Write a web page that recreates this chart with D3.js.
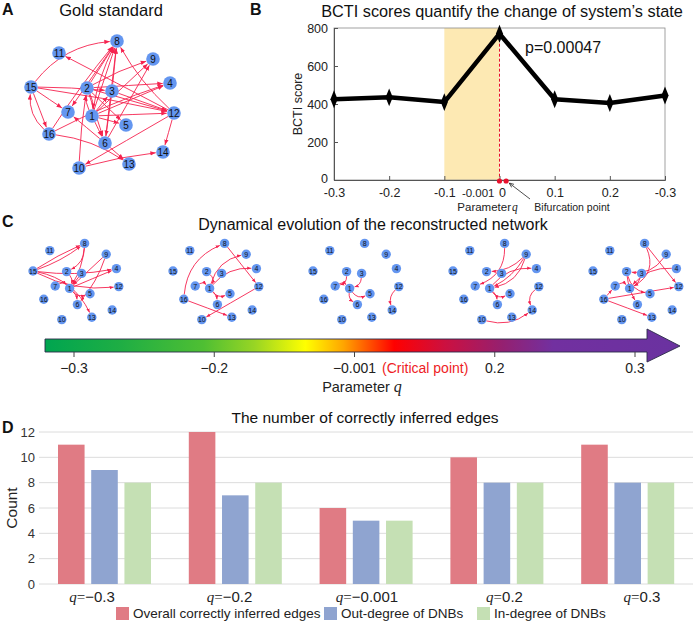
<!DOCTYPE html>
<html><head><meta charset="utf-8">
<script src="https://cdn.jsdelivr.net/npm/d3@7"></script>
<style>body{margin:0;background:#fff}svg{display:block;font-family:Arial,"Liberation Sans",sans-serif}</style>
</head><body><svg id="c" width="694" height="622"></svg>
<script>
// ---------- DATA ----------
const nodeIds = [1,2,3,4,5,6,7,8,9,10,11,12,13,14,15,16];
const nodeX = [92,87,112,170,126,105,68,117,153,79,59,174,129,163,31,49];
const nodeY = [116,88,91,83,125,143,112,41,59,168,53,113,164,152,87,134];
// [source, target, bend]
const goldEdges = [
 [15,8,0.22],[16,15,0.25],[15,16,0],[15,7,0],[15,3,0.02],[15,12,0.02],
 [12,11,0],[16,8,0.03],[16,4,0.04],[16,13,0.12],
 [2,8,0],[1,8,0],[1,8,0.08],[3,8,0],[6,8,0],[12,8,0.08],[8,7,0],
 [2,9,0.05],[1,9,0],[6,9,0],[2,4,0],[1,4,0],
 [2,12,0],[3,12,0],[1,12,0],[1,2,0.15],[2,1,0.15],[1,3,0],
 [1,5,0],[2,5,0],[1,6,0],[2,6,0],[6,7,0],[3,6,0],
 [10,2,0.03],[12,14,0],[12,10,0],[10,14,0.04],[6,13,0]
];
const stageNames = ["-0.3","-0.2","-0.001","0.2","0.3"];
const stageEdges = [
 [[15,8,0.04],[15,8,-0.08],[15,4,-0.08],[15,12,-0.15],[15,13,0.25],[8,1,0.12],[8,2,0.3],
  [9,1,0],[9,6,0.1],[1,4,0],[1,5,-0.3],[7,1,0.4],[2,1,0.3],[1,6,0.2],[3,1,0]],
 [[16,8,0.3],[16,13,0],[8,12,0],[12,10,0],[1,9,0.3],[1,4,0.25],[2,1,0.4],[7,1,0.4],[1,5,-0.35],[1,6,0.2]],
 [[2,7,0.4],[7,1,0.4],[3,1,0.35],[1,5,-0.4],[1,6,-0.3],[12,14,-0.3]],
 [[8,7,0.35],[9,1,0.3],[9,1,0.15],[9,2,0.2],[1,4,0.25],[1,5,-0.4],[1,6,0.2],[12,14,-0.35],[10,14,-0.25]],
 [[8,12,0],[8,1,0.45],[9,2,0.3],[4,1,-0.25],[16,12,0],[16,13,0],[16,7,0],[2,5,-0.3],[2,6,-0.1],[7,1,0.4],[3,1,0.2]]
];
const bctiQ = [-0.3,-0.2,-0.1,0,0.1,0.2,0.3];
const bctiScore = [425,435,410,770,425,405,445];
const bctiTickVals = [-0.3,-0.2,-0.1,0,0.1,0.2,0.3];
const bctiTickLabels = ["-0.3","-0.2","-0.1","0","0.1","0.2","-0.3"];
const bctiYTicks = [0,200,400,600,800];
const cbarLabels = ["\u22120.3","\u22120.2","\u22120.001","0.2","0.3"];
const barCats = ["\u22120.3","\u22120.2","\u22120.001","0.2","0.3"];
const seriesNames = ["Overall correctly inferred edges","Out-degree of DNBs","In-degree of DNBs"];
const overallEdges = [11,12,6,10,11];
const outDegree = [9,7,5,8,8];
const inDegree = [8,8,5,8,8];
const countTicks = [0,2,4,6,8,10,12];

// ---------- STYLE ----------
const edgeColor = "#f5234f", nodeColor = "#6496f0";
const seriesColors = ["#e07b84","#8fa4d0","#c5e0b4"];
const svg = d3.select("#c");
const defs = svg.append("defs");
function marker(id, w){
  defs.append("marker").attr("id",id).attr("viewBox","0 -5 10 10").attr("refX",10).attr("refY",0)
    .attr("markerWidth",w).attr("markerHeight",w).attr("orient","auto")
    .append("path").attr("d","M0,-4L10,0L0,4Z").attr("fill",edgeColor);
}
marker("arrA",6); marker("arrC",4.5);

function drawNet(g, xs, ys, edges, r, fs, mk){
  const pos = id => { const i = nodeIds.indexOf(id); return [xs(nodeX[i]), ys(nodeY[i])]; };
  g.selectAll("path.e").data(edges).join("path").attr("class","e")
    .attr("fill","none").attr("stroke",edgeColor).attr("stroke-width",0.9)
    .attr("marker-end",`url(#${mk})`)
    .attr("d", e => {
      const [sx,sy] = pos(e[0]), [tx,ty] = pos(e[1]);
      const dx = tx-sx, dy = ty-sy;
      const cx = (sx+tx)/2 + dy*e[2], cy = (sy+ty)/2 - dx*e[2];
      const a1 = Math.atan2(cy-sy, cx-sx), a2 = Math.atan2(cy-ty, cx-tx);
      const x1 = sx + r*Math.cos(a1), y1 = sy + r*Math.sin(a1);
      const x2 = tx + (r+0.5)*Math.cos(a2), y2 = ty + (r+0.5)*Math.sin(a2);
      return `M${x1},${y1}Q${cx},${cy} ${x2},${y2}`;
    });
  const n = g.selectAll("g.n").data(nodeIds).join("g").attr("class","n")
    .attr("transform", id => `translate(${pos(id)})`);
  n.append("circle").attr("r",r).attr("fill",nodeColor);
  n.append("text").text(d=>d).attr("text-anchor","middle").attr("dy","0.36em")
    .attr("font-size",fs).attr("fill","#111");
}

function label(x,y,t){ svg.append("text").attr("x",x).attr("y",y).text(t).attr("font-weight","bold").attr("font-size",16).attr("fill","#111"); }

// ---------- PANEL A ----------
label(2,15,"A");
svg.append("text").attr("x",111).attr("y",16).attr("text-anchor","middle").attr("font-size",16.5).attr("fill","#111").text("Gold standard");
{
  const xs = d3.scaleLinear().domain([0,1]).range([0,1]);
  const ys = d3.scaleLinear().domain([0,1]).range([0,1]);
  drawNet(svg.append("g"), xs, ys, goldEdges, 6.8, 10, "arrA");
}

// ---------- PANEL B ----------
label(250,15,"B");
svg.append("text").attr("x",502).attr("y",17).attr("text-anchor","middle").attr("font-size",16.3).attr("fill","#111")
  .text("BCTI scores quantify the change of system\u2019s state");
{
  const xB = d3.scaleLinear().domain([-0.3,0.3]).range([334,665]);
  const yB = d3.scaleLinear().domain([0,800]).range([180,28]);
  const g = svg.append("g");
  g.append("rect").attr("x",xB(-0.1)).attr("y",yB(800)).attr("width",xB(0)-xB(-0.1)).attr("height",yB(0)-yB(800)).attr("fill","#fde9b3");
  g.append("line").attr("x1",xB(0)).attr("x2",xB(0)).attr("y1",yB(bctiScore[3])).attr("y2",yB(0))
    .attr("stroke","#e8112d").attr("stroke-width",1).attr("stroke-dasharray","3,2");
  // box
  g.append("rect").attr("x",xB(-0.3)).attr("y",yB(800)).attr("width",xB(0.3)-xB(-0.3)).attr("height",yB(0)-yB(800))
    .attr("fill","none").attr("stroke","#8a8a8a").attr("stroke-width",0.8);
  const ax = g.append("g").attr("transform",`translate(0,${yB(0)})`)
    .call(d3.axisBottom(xB).tickValues(bctiTickVals).tickFormat((d,i)=>bctiTickLabels[i]).tickSize(-4).tickPadding(8));
  const ay = g.append("g").attr("transform",`translate(${xB(-0.3)},0)`)
    .call(d3.axisLeft(yB).tickValues(bctiYTicks).tickSize(-4).tickPadding(6));
  [ax,ay].forEach(a=>{ a.select(".domain").attr("stroke","#555"); a.selectAll(".tick line").attr("stroke","#555");
    a.selectAll("text").attr("font-size",12.5).attr("fill","#222").attr("font-family","Arial,'Liberation Sans',sans-serif"); });
  ax.selectAll(".tick text").attr("dx",(d)=> d===0 ? "0.2em" : 0);
  ay.selectAll(".tick text").attr("dy",(d)=> d===0 ? "0.2em" : "0.32em");
  g.append("text").attr("x",xB(0)-5).attr("y",yB(0)+17).attr("text-anchor","end").attr("font-size",11.5).attr("fill","#222").text("-0.001");
  const line = d3.line().x((d,i)=>xB(bctiQ[i])).y(d=>yB(d));
  g.append("path").datum(bctiScore).attr("d",line).attr("fill","none").attr("stroke","#000").attr("stroke-width",4.5).attr("stroke-linejoin","round");
  g.selectAll("path.dm").data(bctiScore).join("path").attr("class","dm")
    .attr("transform",(d,i)=>`translate(${xB(bctiQ[i])},${yB(d)}) scale(0.8,1.15)`)
    .attr("d",d3.symbol(d3.symbolDiamond,70)).attr("fill","#000");
  g.selectAll("circle.rd").data([0,0.012]).join("circle").attr("class","rd")
    .attr("cx",d=>xB(d)).attr("cy",yB(0)+1).attr("r",2.6).attr("fill","#e8112d");
  defs.append("marker").attr("id","blk").attr("viewBox","0 -5 10 10").attr("refX",10).attr("markerWidth",6).attr("markerHeight",6).attr("orient","auto")
    .append("path").attr("d","M0,-4L10,0L0,4").attr("fill","none").attr("stroke","#222").attr("stroke-width",1.5);
  g.append("line").attr("x1",530).attr("y1",199).attr("x2",xB(0.012)+3).attr("y2",yB(0)+3)
    .attr("stroke","#222").attr("stroke-width",0.8).attr("marker-end","url(#blk)");
  g.append("text").attr("x",572).attr("y",210.5).attr("text-anchor","middle").attr("font-size",10.5).attr("fill","#222").text("Bifurcation point");
  g.append("text").attr("x",511).attr("y",211).attr("text-anchor","end").attr("font-size",11.5).attr("fill","#222").text("Parameter");
  g.append("text").attr("x",512).attr("y",211).attr("font-size",11.5).attr("fill","#222")
    .attr("font-style","italic").attr("font-family","'Liberation Serif',serif").text("q");
  g.append("text").attr("x",525).attr("y",53).attr("font-size",16).attr("fill","#111").text("p=0.00047");
  g.append("text").attr("transform",`translate(302,${(yB(0)+yB(800))/2}) rotate(-90)`).attr("text-anchor","middle")
    .attr("font-size",12.5).attr("fill","#222").text("BCTI score");
}

// ---------- PANEL C ----------
label(2,227,"C");
svg.append("text").attr("x",373).attr("y",229.5).attr("text-anchor","middle").attr("font-size",16).attr("fill","#111")
  .text("Dynamical evolution of the reconstructed network");
stageNames.forEach((s,k)=>{
  const xs = d3.scaleLinear().domain([31,174]).range([33+140*k, 33+140*k+143*0.6]);
  const ys = d3.scaleLinear().domain([87,168]).range([271, 271+81*0.6]);
  drawNet(svg.append("g"), xs, ys, stageEdges[k], 4.7, 7, "arrC");
});

// colour arrow
{
  const grad = defs.append("linearGradient").attr("id","cg").attr("gradientUnits","userSpaceOnUse")
    .attr("x1",45).attr("x2",680).attr("y1",0).attr("y2",0);
  [[0,"#00a550"],[0.12,"#1fae44"],[0.25,"#4fbf33"],[0.33,"#98d524"],[0.41,"#ffff00"],[0.47,"#ffa500"],
   [0.55,"#ff0000"],[0.63,"#cc1040"],[0.72,"#952070"],[0.8,"#7230a0"],[1,"#6a32a0"]]
   .forEach(([o,c])=>grad.append("stop").attr("offset",o).attr("stop-color",c));
  svg.append("path").attr("d","M45,339H647V329L680,346L647,362V352H45Z").attr("fill","url(#cg)")
    .attr("stroke","#2b2b4a").attr("stroke-width",0.9);
  const xc = d3.scalePoint().domain(cbarLabels).range([74,635]);
  const g = svg.append("g");
  g.selectAll("line").data(cbarLabels).join("line").attr("x1",d=>xc(d)).attr("x2",d=>xc(d)).attr("y1",352).attr("y2",357).attr("stroke","#444");
  g.selectAll("text").data(cbarLabels).join("text").attr("x",d=>xc(d)).attr("y",373).attr("text-anchor","middle")
    .attr("font-size",14).attr("fill","#222").text(d=>d);
  svg.append("text").attr("x",382).attr("y",373).attr("font-size",14).attr("fill","#ee1c25").text("(Critical point)");
  const pl = svg.append("text").attr("x",362).attr("y",392).attr("text-anchor","middle").attr("font-size",14.5).attr("fill","#222");
  pl.append("tspan").text("Parameter ");
  pl.append("tspan").text("q").attr("font-style","italic").attr("font-family","'Liberation Serif',serif").attr("font-size",16);
}

// ---------- PANEL D ----------
label(2,433,"D");
svg.append("text").attr("x",365).attr("y",423).attr("text-anchor","middle").attr("font-size",15.5).attr("fill","#111")
  .text("The number of correctly inferred edges");
{
  const x0 = d3.scaleBand().domain(barCats).range([39,693]);
  const x1 = d3.scaleBand().domain(seriesNames).range([19,112]).paddingInner(0.2);
  const xLab = d3.scalePoint().domain(barCats).range([92,642]);
  const yD = d3.scaleLinear().domain([0,12]).range([584,432]);
  const g = svg.append("g");
  g.selectAll("line.gr").data(countTicks).join("line").attr("class","gr")
    .attr("x1",39).attr("x2",693).attr("y1",d=>yD(d)).attr("y2",d=>yD(d)).attr("stroke","#dcdcdc").attr("stroke-width",1);
  g.selectAll("text.yt").data(countTicks).join("text").attr("class","yt")
    .attr("x",35).attr("y",d=>yD(d)).attr("dy","0.35em").attr("text-anchor","end").attr("font-size",13).attr("fill","#333").text(d=>d);
  const series = [overallEdges,outDegree,inDegree];
  series.forEach((vals,si)=>{
    g.selectAll(`rect.s${si}`).data(vals).join("rect").attr("class",`s${si}`)
      .attr("x",(d,i)=>x0(barCats[i])+x1(seriesNames[si])).attr("width",x1.bandwidth())
      .attr("y",d=>yD(d)).attr("height",d=>yD(0)-yD(d)).attr("fill",seriesColors[si]);
  });
  const xl = g.selectAll("text.xl").data(barCats).join("text").attr("class","xl")
    .attr("x",d=>xLab(d)).attr("y",602).attr("text-anchor","middle")
    .attr("font-size",15).attr("fill","#222");
  xl.append("tspan").text("q").attr("font-family","'Liberation Serif',serif").attr("font-style","italic");
  xl.append("tspan").text("=").attr("font-family","'Liberation Serif',serif");
  xl.append("tspan").text(d=>d);
  g.append("text").attr("transform",`translate(17,${(yD(0)+yD(12))/2}) rotate(-90)`).attr("text-anchor","middle")
    .attr("font-size",15.5).attr("fill","#222").text("Count");
  const lx = [116,324,477];
  seriesNames.forEach((n,i)=>{
    g.append("rect").attr("x",lx[i]).attr("y",607).attr("width",13).attr("height",13).attr("fill",seriesColors[i]);
    g.append("text").attr("x",lx[i]+17).attr("y",618).attr("font-size",13.5).attr("fill","#222").text(n);
  });
}
</script></body></html>
